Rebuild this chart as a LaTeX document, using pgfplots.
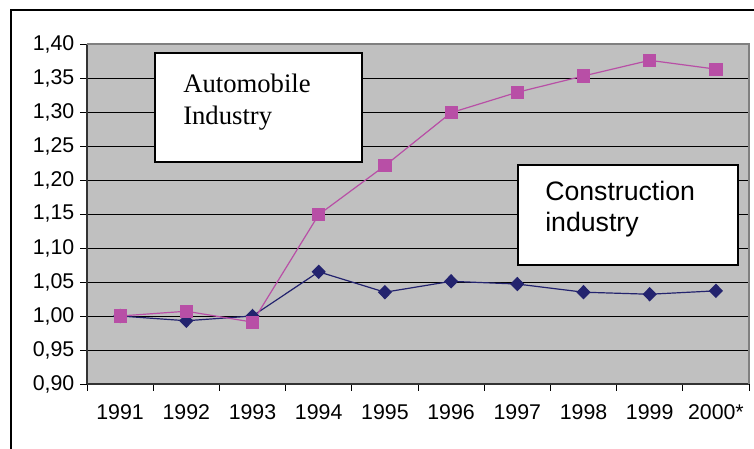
\documentclass[border=0pt]{standalone}
\usepackage{pgfplots}
\pgfplotsset{compat=1.18}
\usepackage{fontspec}
\setmainfont{Liberation Sans}
\newfontfamily\serifont{Liberation Serif}
\definecolor{plotbg}{HTML}{C0C0C0}
\definecolor{autoc}{HTML}{B84FA6}
\definecolor{consc}{HTML}{23236E}
\begin{document}
\begin{tikzpicture}
\useasboundingbox (0,0) rectangle (565.5pt,-336.75pt);
\draw[line width=1.6pt] (8.25pt,-340pt) -- (8.25pt,-7.5pt) -- (600pt,-7.5pt);
\begin{axis}[
  at={(65.25pt,-288pt)}, anchor=south west,
  scale only axis, width=496.5pt, height=255pt,
  xmin=-0.5, xmax=9.5, ymin=0.9, ymax=1.4,
  axis x line*=bottom, axis y line*=left,
  axis line style={-, black!80, line width=0.8pt},
  axis background/.style={fill=plotbg},
  xtick={0,...,9},
  xticklabels={1991,1992,1993,1994,1995,1996,1997,1998,1999,2000*},
  minor xtick={-0.5,0.5,...,9.5},
  major x tick style={draw=none},
  minor tick length=5pt, major tick length=5pt,
  tick align=outside,
  tick style={black, line width=0.6pt},
  ytick={0.9,0.95,...,1.41},
  ymajorgrids, grid style={black, line width=0.6pt},
  yticklabel style={xshift=-1pt, /pgf/number format/.cd, fixed, fixed zerofill, precision=2, use comma},
  /pgf/number format/assume math mode=true,
  ticklabel style={font=\fontsize{16}{18}\selectfont},
  xticklabel style={yshift=-7pt},
  clip=false,
]
\addplot[consc, line width=0.9pt, mark=diamond*, mark size=4.8pt, mark options={fill=consc, draw=consc, xscale=1.3}] coordinates {
(0,1.000) (1,0.993) (2,1.000) (3,1.065) (4,1.035) (5,1.051) (6,1.047) (7,1.035) (8,1.032) (9,1.037)};
\addplot[autoc, line width=0.9pt, mark=square*, mark size=4.5pt, mark options={fill=autoc, draw=autoc}] coordinates {
(0,1.000) (1,1.007) (2,0.991) (3,1.149) (4,1.221) (5,1.299) (6,1.329) (7,1.353) (8,1.376) (9,1.363)};
\draw[gray, line width=0.8pt] (rel axis cs:0,1) -- (rel axis cs:1,1) -- (rel axis cs:1,0);
\end{axis}
\begin{scope}[x=0.75pt,y=-0.75pt]
\draw[line width=1.5pt, fill=white] (155,53) rectangle (362,162);
\node[anchor=base west, font=\serifont\fontsize{20}{24}\selectfont, inner sep=0pt] at (183,93) {Automobile};
\node[anchor=base west, font=\serifont\fontsize{20}{24}\selectfont, inner sep=0pt] at (183,125) {Industry};
\draw[line width=1.5pt, fill=white] (518,165) rectangle (738,265);
\node[anchor=base west, font=\fontsize{20}{24}\selectfont, inner sep=0pt] at (545,201) {Construction};
\node[anchor=base west, font=\fontsize{20}{24}\selectfont, inner sep=0pt] at (545,232) {industry};
\end{scope}
\end{tikzpicture}
\end{document}
